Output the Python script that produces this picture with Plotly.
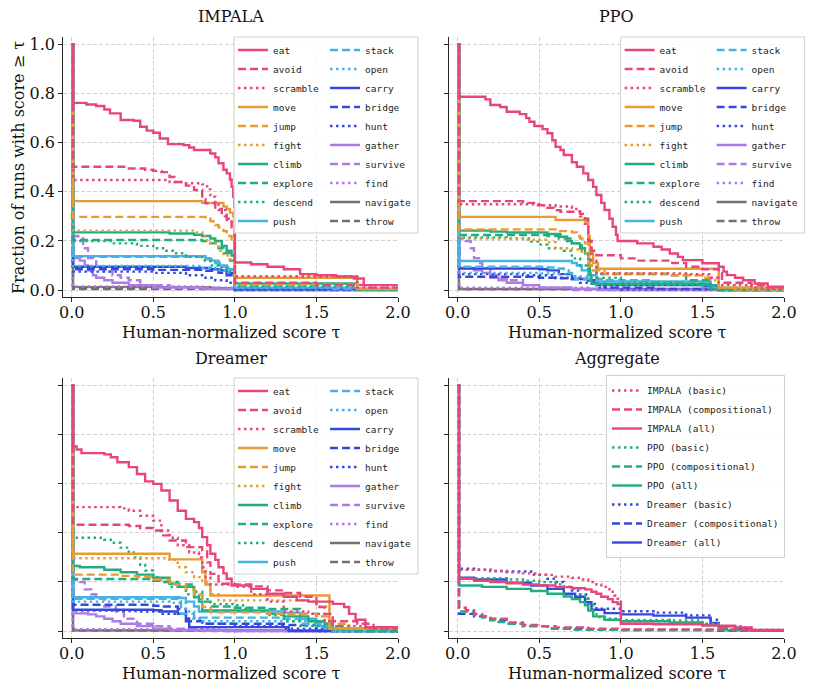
import plotly.graph_objects as go

# performance profiles: (tau, fraction of runs with score >= tau), step points
TASKS = ['eat', 'avoid', 'scramble', 'move', 'jump', 'fight', 'climb', 'explore', 'descend', 'push',
         'stack', 'open', 'carry', 'bridge', 'hunt', 'gather', 'survive', 'find', 'navigate', 'throw']

IMPALA = {
    'eat': [(0, 1), (0.008, 0.762), (0.09, 0.755), (0.15, 0.749), (0.2, 0.735), (0.235, 0.719), (0.3, 0.692),
            (0.38, 0.689), (0.42, 0.665), (0.46, 0.649), (0.5, 0.64), (0.54, 0.617), (0.59, 0.594), (0.685, 0.59),
            (0.72, 0.58), (0.75, 0.57), (0.85, 0.556), (0.88, 0.54), (0.9, 0.516), (0.93, 0.49), (0.95, 0.475),
            (0.97, 0.45), (0.98, 0.42), (0.99, 0.38), (0.996, 0.34), (1.0, 0.112), (1.1, 0.105), (1.2, 0.095),
            (1.3, 0.085), (1.4, 0.065), (1.5, 0.06), (1.62, 0.055), (1.73, 0.047), (1.79, 0.02), (2.0, 0.02)],
    'avoid': [(0, 1), (0.008, 0.502), (0.35, 0.495), (0.45, 0.49), (0.5, 0.485), (0.55, 0.48), (0.6, 0.46),
              (0.63, 0.44), (0.7, 0.425), (0.75, 0.407), (0.8, 0.37), (0.82, 0.353), (0.88, 0.33), (0.92, 0.3),
              (0.95, 0.285), (0.98, 0.25), (1.0, 0.03), (1.5, 0.02), (1.8, 0.01), (2.0, 0.01)],
    'scramble': [(0, 1), (0.008, 0.448), (0.6, 0.44), (0.68, 0.435), (0.8, 0.43), (0.83, 0.41), (0.85, 0.38),
                 (0.88, 0.35), (0.9, 0.326), (0.95, 0.29), (0.98, 0.27), (1.0, 0.055), (1.75, 0.01), (2.0, 0.01)],
    'move': [(0, 1), (0.008, 0.362), (0.8, 0.355), (0.93, 0.34), (0.95, 0.33), (0.97, 0.315), (0.99, 0.3),
             (1.0, 0.05), (1.75, 0.005), (2.0, 0.005)],
    'jump': [(0, 1), (0.008, 0.298), (0.82, 0.29), (0.85, 0.28), (0.88, 0.265), (0.9, 0.255), (0.93, 0.24),
             (0.95, 0.22), (0.98, 0.2), (1.0, 0.022), (1.75, 0.005), (2.0, 0.005)],
    'fight': [(0, 1), (0.008, 0.242), (0.75, 0.235), (0.8, 0.22), (0.83, 0.2), (0.85, 0.19), (0.9, 0.16),
              (0.93, 0.14), (0.97, 0.12), (1.0, 0.055), (1.75, 0.003), (2.0, 0.003)],
    'climb': [(0, 1), (0.008, 0.235), (0.6, 0.23), (0.75, 0.225), (0.8, 0.22), (0.85, 0.21), (0.88, 0.2),
              (0.92, 0.18), (0.95, 0.16), (0.98, 0.14), (1.0, 0.027), (1.75, 0.002), (2.0, 0.002)],
    'explore': [(0, 1), (0.008, 0.204), (0.8, 0.2), (0.85, 0.19), (0.9, 0.17), (0.93, 0.15), (0.97, 0.12),
                (1.0, 0.02), (1.75, 0.002), (2.0, 0.002)],
    'descend': [(0, 1), (0.008, 0.2), (0.25, 0.19), (0.4, 0.18), (0.5, 0.17), (0.58, 0.16), (0.62, 0.15),
                (0.7, 0.135), (0.8, 0.12), (0.85, 0.1), (0.9, 0.09), (0.95, 0.075), (1.0, 0.015), (1.75, 0.002),
                (2.0, 0.002)],
    'push': [(0, 1), (0.008, 0.138), (0.82, 0.13), (0.85, 0.12), (0.9, 0.1), (0.95, 0.085), (1.0, 0.01),
             (1.75, 0.002), (2.0, 0.002)],
    'stack': [(0, 1), (0.008, 0.135), (0.82, 0.125), (0.88, 0.11), (0.93, 0.095), (0.97, 0.08), (1.0, 0.012),
              (1.6, 0.005), (2.0, 0.005)],
    'open': [(0, 1), (0.008, 0.098), (0.8, 0.09), (0.9, 0.08), (0.95, 0.07), (1.0, 0.008), (2.0, 0.008)],
    'carry': [(0, 1), (0.008, 0.095), (0.7, 0.09), (0.85, 0.085), (0.9, 0.08), (0.95, 0.07), (1.0, 0.005),
              (2.0, 0.005)],
    'bridge': [(0, 1), (0.008, 0.085), (0.5, 0.082), (0.8, 0.078), (0.9, 0.07), (0.95, 0.06), (1.0, 0.003),
               (2.0, 0.003)],
    'hunt': [(0, 1), (0.008, 0.075), (0.5, 0.07), (0.7, 0.06), (0.8, 0.05), (0.88, 0.04), (0.95, 0.03),
             (1.0, 0.002), (2.0, 0.002)],
    'gather': [(0, 1), (0.008, 0.13), (0.05, 0.12), (0.08, 0.1), (0.1, 0.08), (0.13, 0.06), (0.15, 0.05),
               (0.2, 0.04), (0.25, 0.03), (0.35, 0.02), (0.5, 0.01), (0.8, 0.005), (1.0, 0.0), (2.0, 0.0)],
    'survive': [(0, 1), (0.008, 0.22), (0.04, 0.21), (0.07, 0.17), (0.1, 0.13), (0.15, 0.09), (0.2, 0.075),
                (0.25, 0.06), (0.3, 0.05), (0.35, 0.04), (0.42, 0.02), (0.6, 0.01), (0.9, 0.005), (1.0, 0.0),
                (2.0, 0.0)],
    'find': [(0, 1), (0.008, 0.015), (0.8, 0.01), (1.0, 0.0), (2.0, 0.0)],
    'navigate': [(0, 1), (0.008, 0.012), (0.85, 0.008), (1.0, 0.0), (2.0, 0.0)],
    'throw': [(0, 1), (0.008, 0.004), (2.0, 0.003)],
}

PPO = {
    'eat': [(0, 1), (0.008, 0.787), (0.17, 0.776), (0.2, 0.753), (0.26, 0.745), (0.3, 0.726), (0.38, 0.716),
            (0.42, 0.7), (0.44, 0.685), (0.47, 0.668), (0.52, 0.655), (0.55, 0.638), (0.58, 0.61), (0.6, 0.583),
            (0.63, 0.57), (0.65, 0.55), (0.7, 0.52), (0.73, 0.502), (0.77, 0.475), (0.8, 0.448), (0.83, 0.42),
            (0.85, 0.387), (0.88, 0.355), (0.9, 0.326), (0.93, 0.29), (0.95, 0.258), (0.97, 0.225), (0.98, 0.2),
            (1.1, 0.19), (1.2, 0.176), (1.25, 0.165), (1.3, 0.149), (1.35, 0.135), (1.38, 0.122), (1.5, 0.109),
            (1.6, 0.095), (1.63, 0.075), (1.65, 0.061), (1.7, 0.05), (1.75, 0.04), (1.82, 0.027), (1.9, 0.014),
            (2.0, 0.014)],
    'avoid': [(0, 1), (0.008, 0.362), (0.4, 0.355), (0.48, 0.345), (0.55, 0.335), (0.6, 0.325), (0.63, 0.319),
              (0.75, 0.31), (0.78, 0.29), (0.8, 0.2), (0.82, 0.16), (0.85, 0.142), (1.0, 0.129), (1.1, 0.12),
              (1.3, 0.11), (1.4, 0.095), (1.5, 0.085), (1.6, 0.07), (1.62, 0.03), (1.8, 0.02), (1.9, 0.01),
              (2.0, 0.01)],
    'scramble': [(0, 1), (0.008, 0.349), (0.5, 0.345), (0.6, 0.34), (0.7, 0.33), (0.75, 0.3), (0.78, 0.27),
                 (0.8, 0.2), (0.82, 0.12), (0.85, 0.068), (1.4, 0.065), (1.55, 0.05), (1.6, 0.02), (1.8, 0.01),
                 (2.0, 0.005)],
    'move': [(0, 1), (0.008, 0.298), (0.6, 0.285), (0.78, 0.28), (0.8, 0.22), (0.81, 0.15), (0.83, 0.11),
             (0.86, 0.087), (1.6, 0.01), (2.0, 0.005)],
    'jump': [(0, 1), (0.008, 0.247), (0.6, 0.24), (0.7, 0.235), (0.73, 0.22), (0.75, 0.21), (0.78, 0.19),
             (0.8, 0.17), (0.81, 0.1), (0.82, 0.08), (0.85, 0.068), (1.3, 0.06), (1.5, 0.05), (1.6, 0.01),
             (2.0, 0.002)],
    'fight': [(0, 1), (0.008, 0.21), (0.4, 0.205), (0.55, 0.195), (0.6, 0.17), (0.7, 0.165), (0.76, 0.15),
              (0.8, 0.1), (0.82, 0.08), (0.9, 0.065), (1.4, 0.06), (1.55, 0.04), (1.6, 0.02), (1.7, 0.0),
              (2.0, 0.0)],
    'climb': [(0, 1), (0.008, 0.242), (0.2, 0.238), (0.3, 0.234), (0.55, 0.228), (0.63, 0.217), (0.67, 0.2),
              (0.7, 0.19), (0.75, 0.17), (0.78, 0.15), (0.8, 0.125), (0.81, 0.06), (0.82, 0.025), (1.55, 0.005),
              (2.0, 0.002)],
    'explore': [(0, 1), (0.008, 0.224), (0.55, 0.22), (0.62, 0.21), (0.7, 0.19), (0.76, 0.15), (0.8, 0.1),
                (0.85, 0.065), (1.3, 0.06), (1.4, 0.04), (1.55, 0.02), (1.6, 0.0), (2.0, 0.0)],
    'descend': [(0, 1), (0.008, 0.214), (0.3, 0.21), (0.45, 0.197), (0.5, 0.185), (0.55, 0.17), (0.65, 0.16),
                (0.7, 0.129), (0.75, 0.1), (0.8, 0.07), (0.85, 0.05), (1.0, 0.03), (1.4, 0.02), (1.6, 0.0),
                (2.0, 0.0)],
    'push': [(0, 1), (0.008, 0.118), (0.7, 0.11), (0.73, 0.1), (0.76, 0.08), (0.8, 0.06), (0.85, 0.035),
             (1.55, 0.01), (1.6, 0.0), (2.0, 0.0)],
    'stack': [(0, 1), (0.008, 0.095), (0.55, 0.092), (0.6, 0.088), (0.65, 0.08), (0.68, 0.07), (0.72, 0.045),
              (0.9, 0.04), (1.2, 0.03), (1.5, 0.02), (1.6, 0.01), (2.0, 0.002)],
    'open': [(0, 1), (0.008, 0.07), (0.5, 0.068), (0.6, 0.065), (0.7, 0.055), (0.8, 0.045), (0.85, 0.02),
             (1.5, 0.01), (1.6, 0.0), (2.0, 0.0)],
    'carry': [(0, 1), (0.008, 0.088), (0.5, 0.085), (0.55, 0.08), (0.62, 0.065), (0.7, 0.045), (0.8, 0.04),
              (0.85, 0.02), (1.5, 0.015), (1.6, 0.0), (2.0, 0.0)],
    'bridge': [(0, 1), (0.008, 0.054), (0.5, 0.05), (0.6, 0.048), (0.7, 0.045), (0.8, 0.03), (0.9, 0.01),
               (1.2, 0.005), (2.0, 0.003)],
    'hunt': [(0, 1), (0.008, 0.065), (0.4, 0.06), (0.6, 0.05), (0.75, 0.03), (0.85, 0.01), (1.0, 0.003),
             (2.0, 0.002)],
    'gather': [(0, 1), (0.008, 0.09), (0.1, 0.08), (0.15, 0.07), (0.2, 0.05), (0.25, 0.04), (0.3, 0.03),
               (0.4, 0.02), (0.5, 0.01), (0.7, 0.005), (0.9, 0.0), (2.0, 0.0)],
    'survive': [(0, 1), (0.008, 0.21), (0.05, 0.2), (0.08, 0.17), (0.1, 0.13), (0.13, 0.11), (0.15, 0.09),
                (0.2, 0.06), (0.25, 0.05), (0.3, 0.04), (0.4, 0.02), (0.5, 0.01), (0.7, 0.0), (2.0, 0.0)],
    'find': [(0, 1), (0.008, 0.01), (0.8, 0.005), (1.0, 0.0), (2.0, 0.0)],
    'navigate': [(0, 1), (0.008, 0.005), (2.0, 0.003)],
    'throw': [(0, 1), (0.008, 0.003), (2.0, 0.002)],
}

DREAMER = {
    'eat': [(0, 1), (0.008, 0.752), (0.03, 0.74), (0.06, 0.725), (0.2, 0.72), (0.24, 0.708), (0.28, 0.688),
            (0.35, 0.668), (0.4, 0.64), (0.45, 0.61), (0.5, 0.6), (0.55, 0.573), (0.6, 0.532), (0.65, 0.49),
            (0.7, 0.457), (0.75, 0.444), (0.78, 0.42), (0.8, 0.383), (0.83, 0.35), (0.85, 0.315), (0.88, 0.29),
            (0.9, 0.26), (0.93, 0.235), (0.95, 0.213), (0.98, 0.186), (1.1, 0.172), (1.2, 0.152), (1.3, 0.14),
            (1.38, 0.125), (1.45, 0.12), (1.6, 0.111), (1.67, 0.098), (1.7, 0.07), (1.74, 0.046), (1.8, 0.016),
            (2.0, 0.016)],
    'avoid': [(0, 1), (0.008, 0.433), (0.35, 0.428), (0.42, 0.42), (0.5, 0.41), (0.55, 0.39), (0.6, 0.369),
              (0.7, 0.342), (0.8, 0.33), (0.83, 0.28), (0.85, 0.233), (0.9, 0.193), (1.0, 0.19), (1.1, 0.182),
              (1.2, 0.166), (1.3, 0.155), (1.4, 0.14), (1.5, 0.098), (1.55, 0.07), (1.6, 0.04), (1.75, 0.03),
              (1.85, 0.01), (2.0, 0.005)],
    'scramble': [(0, 1), (0.008, 0.505), (0.3, 0.5), (0.35, 0.49), (0.42, 0.47), (0.5, 0.45), (0.55, 0.41),
                 (0.6, 0.38), (0.65, 0.35), (0.72, 0.32), (0.78, 0.3), (0.8, 0.26), (0.82, 0.22), (0.85, 0.19),
                 (1.0, 0.18), (1.1, 0.15), (1.2, 0.12), (1.3, 0.08), (1.45, 0.07), (1.55, 0.04), (1.6, 0.02),
                 (1.8, 0.01), (2.0, 0.005)],
    'move': [(0, 1), (0.008, 0.315), (0.6, 0.292), (0.8, 0.24), (0.82, 0.19), (0.85, 0.145), (1.58, 0.01),
             (2.0, 0.003)],
    'jump': [(0, 1), (0.008, 0.23), (0.3, 0.225), (0.4, 0.22), (0.5, 0.21), (0.6, 0.19), (0.7, 0.17),
             (0.75, 0.15), (0.8, 0.098), (0.85, 0.077), (1.2, 0.07), (1.5, 0.06), (1.6, 0.03), (1.7, 0.01),
             (2.0, 0.002)],
    'fight': [(0, 1), (0.008, 0.297), (0.6, 0.29), (0.65, 0.26), (0.7, 0.24), (0.75, 0.22), (0.8, 0.2),
              (0.85, 0.15), (0.9, 0.125), (1.45, 0.12), (1.5, 0.1), (1.58, 0.01), (2.0, 0.002)],
    'climb': [(0, 1), (0.008, 0.265), (0.05, 0.26), (0.2, 0.25), (0.3, 0.24), (0.4, 0.23), (0.5, 0.217),
              (0.6, 0.193), (0.66, 0.18), (0.75, 0.138), (0.78, 0.12), (0.8, 0.084), (1.2, 0.07), (1.3, 0.06),
              (1.45, 0.04), (1.55, 0.03), (1.6, 0.01), (2.0, 0.002)],
    'explore': [(0, 1), (0.008, 0.212), (0.5, 0.205), (0.55, 0.2), (0.65, 0.19), (0.75, 0.16), (0.8, 0.12),
                (0.85, 0.1), (1.0, 0.095), (1.2, 0.09), (1.4, 0.07), (1.5, 0.04), (1.6, 0.02), (1.7, 0.0),
                (2.0, 0.0)],
    'descend': [(0, 1), (0.008, 0.38), (0.2, 0.372), (0.25, 0.36), (0.3, 0.34), (0.35, 0.32), (0.38, 0.3),
                (0.42, 0.27), (0.45, 0.247), (0.5, 0.22), (0.55, 0.2), (0.6, 0.18), (0.7, 0.15), (0.78, 0.13),
                (0.85, 0.11), (1.0, 0.105), (1.05, 0.09), (1.1, 0.08), (1.2, 0.065), (1.3, 0.04), (1.4, 0.02),
                (1.55, 0.01), (1.6, 0.0), (2.0, 0.0)],
    'push': [(0, 1), (0.008, 0.138), (0.66, 0.135), (0.7, 0.12), (0.75, 0.1), (0.78, 0.08), (1.3, 0.075),
             (1.4, 0.05), (1.5, 0.02), (1.6, 0.0), (2.0, 0.0)],
    'stack': [(0, 1), (0.008, 0.132), (0.65, 0.13), (0.67, 0.07), (0.75, 0.055), (1.3, 0.05), (1.4, 0.03),
              (1.55, 0.01), (1.6, 0.0), (2.0, 0.0)],
    'open': [(0, 1), (0.008, 0.12), (0.6, 0.115), (0.7, 0.08), (0.75, 0.05), (0.8, 0.04), (1.5, 0.03),
             (1.6, 0.01), (1.7, 0.0), (2.0, 0.0)],
    'carry': [(0, 1), (0.008, 0.087), (0.5, 0.085), (0.55, 0.08), (0.65, 0.07), (0.7, 0.05), (0.72, 0.016),
              (1.33, 0.0), (2.0, 0.0)],
    'bridge': [(0, 1), (0.008, 0.107), (0.5, 0.103), (0.55, 0.1), (0.65, 0.09), (0.7, 0.04), (0.8, 0.03),
               (1.3, 0.025), (1.5, 0.01), (1.6, 0.0), (2.0, 0.0)],
    'hunt': [(0, 1), (0.008, 0.084), (0.3, 0.082), (0.4, 0.08), (0.55, 0.07), (0.7, 0.05), (0.8, 0.03),
             (1.0, 0.02), (1.3, 0.01), (1.5, 0.0), (2.0, 0.0)],
    'gather': [(0, 1), (0.008, 0.072), (0.1, 0.068), (0.15, 0.06), (0.2, 0.05), (0.25, 0.04), (0.3, 0.03),
               (0.4, 0.02), (0.5, 0.01), (0.6, 0.005), (0.95, 0.0), (2.0, 0.0)],
    'survive': [(0, 1), (0.008, 0.21), (0.05, 0.2), (0.08, 0.17), (0.12, 0.15), (0.15, 0.138), (0.2, 0.1),
                (0.27, 0.08), (0.32, 0.05), (0.4, 0.03), (0.5, 0.02), (0.6, 0.01), (0.8, 0.0), (2.0, 0.0)],
    'find': [(0, 1), (0.008, 0.008), (0.9, 0.005), (1.0, 0.0), (2.0, 0.0)],
    'navigate': [(0, 1), (0.008, 0.003), (2.0, 0.003)],
    'throw': [(0, 1), (0.008, 0.002), (2.0, 0.002)],
}

AGG_NAMES = ['IMPALA (basic)', 'IMPALA (compositional)', 'IMPALA (all)',
             'PPO (basic)', 'PPO (compositional)', 'PPO (all)',
             'Dreamer (basic)', 'Dreamer (compositional)', 'Dreamer (all)']

AGGREGATE = {
    'IMPALA (basic)': [(0, 1), (0.008, 0.25), (0.2, 0.245), (0.3, 0.24), (0.4, 0.235), (0.5, 0.229), (0.6, 0.222),
                       (0.7, 0.217), (0.75, 0.21), (0.8, 0.2), (0.85, 0.19), (0.88, 0.18), (0.93, 0.16),
                       (0.96, 0.145), (0.98, 0.132), (1.0, 0.03), (1.5, 0.028), (1.6, 0.02), (1.75, 0.015),
                       (1.8, 0.005), (2.0, 0.003)],
    'IMPALA (compositional)': [(0, 1), (0.008, 0.095), (0.05, 0.085), (0.1, 0.07), (0.15, 0.06), (0.2, 0.05),
                               (0.3, 0.035), (0.4, 0.025), (0.5, 0.02), (0.6, 0.015), (0.8, 0.01), (1.0, 0.007),
                               (1.75, 0.004), (1.8, 0.002), (2.0, 0.002)],
    'IMPALA (all)': [(0, 1), (0.008, 0.213), (0.1, 0.205), (0.2, 0.2), (0.3, 0.195), (0.4, 0.19), (0.5, 0.186),
                     (0.6, 0.179), (0.7, 0.175), (0.78, 0.17), (0.82, 0.16), (0.85, 0.152), (0.88, 0.14),
                     (0.92, 0.13), (0.95, 0.118), (0.98, 0.11), (1.0, 0.03), (1.2, 0.028), (1.5, 0.022),
                     (1.7, 0.015), (1.8, 0.005), (2.0, 0.003)],
    'PPO (basic)': [(0, 1), (0.008, 0.215), (0.3, 0.21), (0.4, 0.205), (0.5, 0.2), (0.6, 0.19), (0.65, 0.18),
                    (0.7, 0.172), (0.75, 0.15), (0.78, 0.13), (0.8, 0.11), (0.83, 0.08), (0.85, 0.057),
                    (0.9, 0.05), (1.0, 0.045), (1.3, 0.043), (1.5, 0.03), (1.6, 0.015), (1.65, 0.005),
                    (2.0, 0.002)],
    'PPO (compositional)': [(0, 1), (0.008, 0.08), (0.1, 0.065), (0.15, 0.055), (0.2, 0.045), (0.25, 0.037),
                            (0.3, 0.03), (0.4, 0.02), (0.55, 0.01), (0.7, 0.005), (1.0, 0.003), (2.0, 0.002)],
    'PPO (all)': [(0, 1), (0.008, 0.186), (0.15, 0.18), (0.3, 0.172), (0.45, 0.163), (0.55, 0.152),
                  (0.65, 0.141), (0.7, 0.13), (0.75, 0.118), (0.78, 0.105), (0.8, 0.084), (0.83, 0.06),
                  (0.9, 0.046), (1.0, 0.04), (1.3, 0.035), (1.5, 0.025), (1.6, 0.012), (1.65, 0.003),
                  (2.0, 0.002)],
    'Dreamer (basic)': [(0, 1), (0.008, 0.254), (0.1, 0.25), (0.2, 0.245), (0.3, 0.243), (0.45, 0.23),
                        (0.55, 0.213), (0.6, 0.2), (0.65, 0.18), (0.7, 0.165), (0.75, 0.149), (0.8, 0.111),
                        (0.85, 0.091), (1.0, 0.081), (1.2, 0.075), (1.4, 0.064), (1.55, 0.046), (1.6, 0.02),
                        (1.7, 0.01), (1.8, 0.003), (2.0, 0.002)],
    'Dreamer (compositional)': [(0, 1), (0.008, 0.07), (0.1, 0.06), (0.2, 0.045), (0.3, 0.03), (0.4, 0.02),
                                (0.55, 0.01), (0.8, 0.005), (1.5, 0.003), (1.6, 0.001), (2.0, 0.001)],
    'Dreamer (all)': [(0, 1), (0.008, 0.217), (0.1, 0.21), (0.3, 0.197), (0.45, 0.186), (0.55, 0.172),
                      (0.65, 0.152), (0.72, 0.14), (0.78, 0.118), (0.82, 0.087), (0.9, 0.073), (1.0, 0.068),
                      (1.2, 0.063), (1.4, 0.055), (1.55, 0.033), (1.6, 0.02), (1.7, 0.01), (1.8, 0.002),
                      (2.0, 0.002)],
}

X_TICKS = [0.0, 0.5, 1.0, 1.5, 2.0]
Y_TICKS = [0.0, 0.2, 0.4, 0.6, 0.8, 1.0]

# styles
FAMILY_COLORS = ['#e8467a', '#e99b32', '#22ad7d', '#45b3e3', '#3448de', '#ae7ae6', '#7b6e6e']
DASHES = ['solid', '8px,4px', '2.5px,3.5px']
AGG_COLORS = {'IMPALA': '#e8467a', 'PPO': '#22ad7d', 'Dreamer': '#3448de'}
AGG_DASH = {'basic': '2.5px,3.5px', 'compositional': '8px,4px', 'all': 'solid'}

SERIF = 'DejaVu Serif'
MONO = 'DejaVu Sans Mono'
W, H = 830, 692
PAGE_OFFSET = 8  # default body margin of the html page


def add_profile(fig, points, name, color, dash, xa, ya, legend):
    taus = [p[0] for p in points]
    fracs = [p[1] for p in points]
    fig.add_trace(go.Scatter(x=taus, y=fracs, mode='lines', name=name,
                             line=dict(shape='hv', color=color, dash=dash, width=2.4),
                             xaxis=xa, yaxis=ya, legend=legend))


# page pixel -> paper coordinate
def px_x(p):
    return (p - PAGE_OFFSET) / W


def px_y(p):
    return 1 - (p - PAGE_OFFSET) / H


fig = go.Figure()

panels = [
    (IMPALA, 'x', 'y', 'legend', 'legend2'),
    (PPO, 'x2', 'y2', 'legend3', 'legend4'),
    (DREAMER, 'x3', 'y3', 'legend5', 'legend6'),
]
# drawn back to front so that 'eat' sits on top; legends are reversed to keep the order
for data, xa, ya, leg1, leg2 in panels:
    for i in reversed(range(len(TASKS))):
        task = TASKS[i]
        add_profile(fig, data[task], task, FAMILY_COLORS[i // 3], DASHES[i % 3], xa, ya,
                    leg1 if i < 10 else leg2)

for name in reversed(AGG_NAMES):
    algo, kind = name.split(' (')
    add_profile(fig, AGGREGATE[name], name, AGG_COLORS[algo], AGG_DASH[kind.rstrip(')')], 'x4', 'y4', 'legend7')

axis_common = dict(
    showline=True, linecolor='#262626', linewidth=1.25, mirror=False, automargin=False,
    ticks='outside', ticklen=4, tickwidth=1.2, tickcolor='#262626',
    showgrid=True, gridcolor='#d2d2d2', griddash='4px,2px', gridwidth=0.8,
    zeroline=False, tickfont=dict(family=SERIF, size=16, color='#111111'),
)
xdom_l = [px_x(63.3), px_x(398)]
xdom_r = [px_x(449.3), px_x(784)]
ydom_t = [px_y(296.7), px_y(37)]
ydom_b = [px_y(637.7), px_y(378.3)]

layout_axes = {}
for key, xd, yd, ylab in [('', xdom_l, ydom_t, True), ('2', xdom_r, ydom_t, False),
                          ('3', xdom_l, ydom_b, False), ('4', xdom_r, ydom_b, False)]:
    layout_axes['xaxis' + key] = dict(axis_common, domain=xd, range=[-0.0515, 2.0], tickvals=X_TICKS,
                                      tickformat='.1f', ticklabelstandoff=-3, anchor='y' + key)
    layout_axes['yaxis' + key] = dict(axis_common, domain=yd, range=[-0.027, 1.03], tickvals=Y_TICKS,
                                      tickformat='.1f', showticklabels=ylab, anchor='x' + key)

leg_common = dict(font=dict(family=MONO, size=9.5, color='#222222'), bgcolor='rgba(0,0,0,0)',
                  borderwidth=0, xanchor='left', yanchor='top', tracegroupgap=0, traceorder='reversed')
legends = {
    'legend': dict(leg_common, x=px_x(233), y=px_y(35.5)),
    'legend2': dict(leg_common, x=px_x(325), y=px_y(35.5)),
    'legend3': dict(leg_common, x=px_x(619.6), y=px_y(35.5)),
    'legend4': dict(leg_common, x=px_x(711.6), y=px_y(35.5)),
    'legend5': dict(leg_common, x=px_x(233), y=px_y(376.5)),
    'legend6': dict(leg_common, x=px_x(325), y=px_y(376.5)),
    'legend7': dict(leg_common, x=px_x(606), y=px_y(375), bgcolor='rgba(255,255,255,0.85)',
                    bordercolor='#d0d0d0', borderwidth=1),
}

# frames behind the two-column legends
shapes = []
for x0, x1, y0, y1 in [(234, 418, 37, 233), (620.6, 804.6, 37, 233), (234, 418, 378, 574)]:
    shapes.append(dict(type='rect', xref='paper', yref='paper', x0=px_x(x0), x1=px_x(x1),
                       y0=px_y(y1), y1=px_y(y0), fillcolor='rgba(255,255,255,0.85)',
                       line=dict(color='#d0d0d0', width=1), layer='above'))

text_font = dict(family=SERIF, size=16, color='#111111')
annotations = []
for text, xc, yc in [('IMPALA', 230.7, 17), ('PPO', 616.7, 17), ('Dreamer', 230.7, 358),
                     ('Aggregate', 616.7, 358)]:
    annotations.append(dict(text=text, x=px_x(xc), y=px_y(yc), xref='paper', yref='paper',
                            showarrow=False, xanchor='center', yanchor='middle', font=text_font))
for xc, yc in [(230.8, 332), (616.7, 332), (230.8, 673), (616.7, 673)]:
    annotations.append(dict(text='Human-normalized score τ', x=px_x(xc), y=px_y(yc), xref='paper',
                            yref='paper', showarrow=False, xanchor='center', yanchor='middle', font=text_font))
annotations.append(dict(text='Fraction of runs with score ≥ τ', x=px_x(18), y=px_y(168), xref='paper',
                        yref='paper', showarrow=False, textangle=-90, xanchor='center', yanchor='middle',
                        font=text_font))

fig.update_layout(
    width=W, height=H,
    margin=dict(l=0, r=0, t=0, b=0),
    paper_bgcolor='white', plot_bgcolor='white',
    showlegend=True,
    shapes=shapes, annotations=annotations,
    **layout_axes, **legends,
)

fig.write_html('out.html')
